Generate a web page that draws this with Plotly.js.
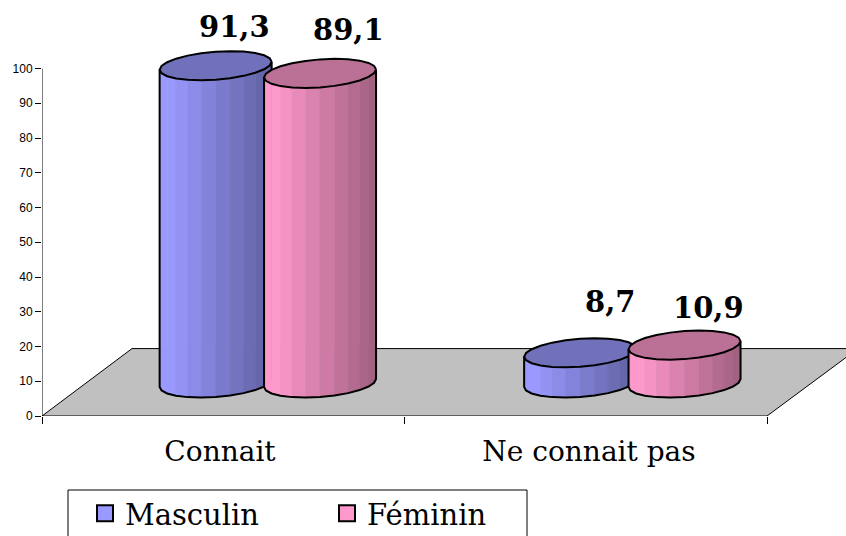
<!DOCTYPE html>
<html>
<head>
<meta charset="utf-8">
<script src="https://cdn.plot.ly/plotly-3.0.1.min.js"></script>
<style>html,body{margin:0;padding:0;background:#fff;width:846px;height:536px;overflow:hidden}#chart{width:846px;height:560px}</style>
</head>
<body>
<div id="chart"></div>
<script>
var categories = ["Connait", "Ne connait pas"];
var seriesNames = ["Masculin", "Féminin"];
var masculin = [91.3, 8.7];
var feminin = [89.1, 10.9];
var labelsMasculin = ["91,3", "8,7"];
var labelsFeminin = ["89,1", "10,9"];
var yTicks = [0, 10, 20, 30, 40, 50, 60, 70, 80, 90, 100];
var baseColors = [[153, 153, 255], [255, 153, 204]];

// pixel scale of the plot
var W = 846, H = 560, L = 42, Y0 = 416;
var pxX = 362.5, pxY = 3.475;
var xMax = (W - L) / pxX, yMax = Y0 / pxY;

// pseudo-3D geometry, in axis units
var cyl = {rx: 56 / pxX, ry: 14 / pxY, shear: 4 / pxY, base: 33 / pxY};
var offsets = [0.479, 0.767];
var groupShift = [0, 2 / pxX];
var FACETS = 12;
function rgb(c, k) { return "rgb(" + c.map(function (v) { return Math.round(v * k); }).join(",") + ")"; }
function ex(cx, t) { return cx + cyl.rx * Math.cos(t); }
function ey(cy, t) { return cy + cyl.ry * Math.sin(t) + cyl.shear * Math.cos(t); }

var traces = [];
function poly(x, y, fill, line, lw) {
  traces.push({type: "scatter", mode: "lines", x: x, y: y, fill: "toself", fillcolor: fill,
    line: {color: line || fill, width: lw === undefined ? 0.6 : lw}, hoverinfo: "skip", showlegend: false, cliponaxis: false});
}
// floor
poly([0, 2, 2 + 91 / pxX, 90 / pxX, 0], [0, 0, 19.4, 19.4, 0], "#c0c0c0", "#000", 1);

function cylinder(cat, ser, value) {
  var cx = cat + offsets[ser] + groupShift[cat], color = baseColors[ser];
  var b = cyl.base, top = cyl.base + value;
  var i, t0, t1, xm, f, oxs = [], oys = [];
  for (i = 0; i < FACETS; i++) {
    t0 = Math.PI + Math.PI * i / FACETS;
    t1 = Math.PI + Math.PI * (i + 1) / FACETS;
    xm = (ex(cx, t0) + ex(cx, t1)) / 2;
    f = (xm - (cx - cyl.rx)) / (2 * cyl.rx);
    poly([ex(cx, t0), ex(cx, t1), ex(cx, t1), ex(cx, t0), ex(cx, t0)],
         [ey(top, t0), ey(top, t1), ey(b, t1), ey(b, t0), ey(top, t0)],
         rgb(color, f < 0.1 ? 1 : 1 - 0.38 * (f - 0.1) / 0.9));
  }
  // outline of the body
  oxs.push(ex(cx, Math.PI)); oys.push(ey(top, Math.PI));
  for (i = 0; i <= FACETS; i++) {
    t0 = Math.PI + Math.PI * i / FACETS;
    oxs.push(ex(cx, t0)); oys.push(ey(b, t0));
  }
  oxs.push(ex(cx, 0)); oys.push(ey(top, 0));
  traces.push({type: "scatter", mode: "lines", x: oxs, y: oys, line: {color: "#000", width: 2},
    hoverinfo: "skip", showlegend: false, cliponaxis: false});
  // top cap
  var tx = [], ty = [];
  for (i = 0; i <= 2 * FACETS; i++) {
    t0 = Math.PI * i / FACETS;
    tx.push(ex(cx, t0)); ty.push(ey(top, t0));
  }
  poly(tx, ty, rgb(color, 0.735), "#000", 2);
}
[masculin, feminin].forEach(function (vals, s) {
  vals.forEach(function (v, c) { if (c === 0) cylinder(c, s, v); });
});
[masculin, feminin].forEach(function (vals, s) {
  vals.forEach(function (v, c) { if (c === 1) cylinder(c, s, v); });
});

// legend entries
seriesNames.forEach(function (n, s) {
  traces.push({type: "scatter", mode: "markers", x: [null], y: [null], name: n,
    marker: {symbol: "square", size: 16, color: rgb(baseColors[s], 1), line: {color: "#000", width: 2}}, showlegend: true});
});

// value labels, offset in pixels from each cap
var labelDx = [[19, 28], [30, 24]];
var labelDy = [[39, 43], [51, 37]];
var annotations = [];
[[masculin, labelsMasculin], [feminin, labelsFeminin]].forEach(function (pair, s) {
  pair[0].forEach(function (v, c) {
    annotations.push({xref: "x", yref: "y", x: c + offsets[s] + groupShift[c], y: cyl.base + v, text: pair[1][c], showarrow: false,
      xshift: labelDx[c][s], yshift: labelDy[c][s], xanchor: "center", yanchor: "middle",
      font: {family: "DejaVu Serif", size: 29, color: "#000", weight: 700}});
  });
});

var plotW = W - L;
var layout = {
  width: W, height: H, margin: {l: L, r: 0, t: 0, b: H - Y0, pad: 0},
  paper_bgcolor: "#fff", plot_bgcolor: "#fff", showlegend: true, hovermode: false,
  xaxis: {range: [0, xMax], tickmode: "array", tickvals: [0.491, 1.509], ticktext: categories, ticks: "", showgrid: false,
    zeroline: false, showline: false, fixedrange: true, ticklabelstandoff: 16,
    tickfont: {family: "DejaVu Serif", size: 28, color: "#000"},
    minor: {tickmode: "array", tickvals: [0, 1, 2], ticks: "outside", ticklen: 7, tickwidth: 1, tickcolor: "#000", showgrid: false}},
  yaxis: {range: [0, yMax], tickmode: "array", tickvals: yTicks, ticks: "outside", ticklen: 6, tickwidth: 1, tickcolor: "#000",
    showgrid: false, zeroline: false, showline: false, fixedrange: true,
    tickfont: {family: "Liberation Sans", size: 12, color: "#000"}},
  shapes: [
    {type: "line", xref: "x", yref: "y", x0: 0, x1: 0, y0: 0, y1: 100, line: {color: "#000", width: 1}},
    {type: "rect", xref: "paper", yref: "paper", x0: (68 - L) / plotW, x1: (527 - L) / plotW,
      y0: (Y0 - 490) / Y0, y1: (Y0 - H - 10) / Y0, line: {color: "#000", width: 1}}
  ],
  annotations: annotations,
  legend: {orientation: "h", xref: "container", yref: "container", x: 85 / W, y: 1 - 488 / H, xanchor: "left", yanchor: "top",
    bgcolor: "rgba(0,0,0,0)", borderwidth: 0, entrywidth: 197, entrywidthmode: "pixels", itemclick: false,
    font: {family: "DejaVu Serif", size: 29, color: "#000"}}
};
Plotly.newPlot("chart", traces, layout, {displayModeBar: false, staticPlot: true});
</script>
</body>
</html>
